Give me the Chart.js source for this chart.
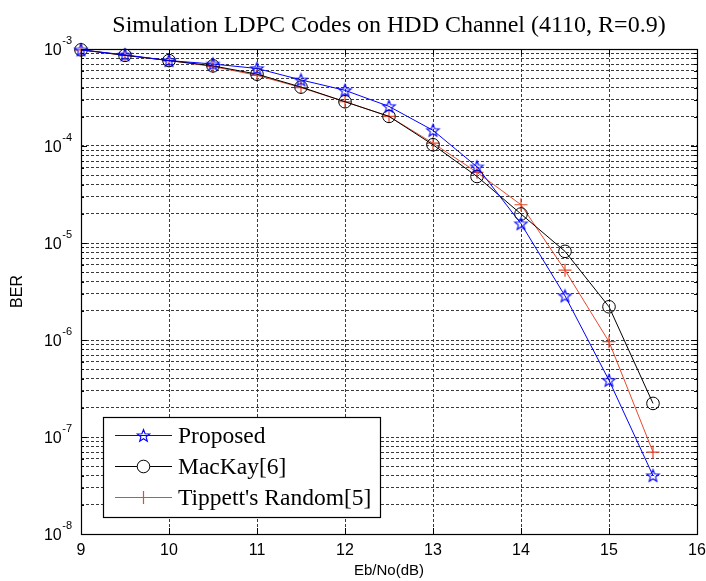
<!DOCTYPE html>
<html>
<head>
<meta charset="utf-8">
<script src="https://cdn.jsdelivr.net/npm/chart.js@4/dist/chart.umd.min.js"></script>
<style>
html,body{margin:0;padding:0;background:#fff;}
#wrap{width:706px;height:581px;}
</style>
</head>
<body>
<div id="wrap"><canvas id="c" width="706" height="581"></canvas></div>
<script>
// ---- data ----
const ebno = [9, 9.5, 10, 10.5, 11, 11.5, 12, 12.5, 13, 13.5, 14, 14.5, 15, 15.5];
const proposed = [9.8e-4, 8.7e-4, 7.6e-4, 7.0e-4, 6.3e-4, 4.8e-4, 3.75e-4, 2.56e-4, 1.45e-4, 6.1e-5, 1.58e-5, 2.85e-6, 3.84e-7, 4.0e-8];
const mackay = [9.8e-4, 8.6e-4, 7.6e-4, 6.7e-4, 5.5e-4, 4.05e-4, 2.86e-4, 2.02e-4, 1.03e-4, 4.85e-5, 1.99e-5, 8.2e-6, 2.2e-6, 2.22e-7];
const tippett = [9.8e-4, 8.6e-4, 7.6e-4, 6.6e-4, 5.35e-4, 4.0e-4, 2.86e-4, 2.02e-4, 1.07e-4, 5.35e-5, 2.48e-5, 5.25e-6, 9.6e-7, 7.0e-8];
const seriesLabels = ['Proposed', 'MacKay[6]', "Tippett's Random[5]"];
const xTicks = [9, 10, 11, 12, 13, 14, 15, 16];
const yMajorTicks = [1e-8, 1e-7, 1e-6, 1e-5, 1e-4, 1e-3];
const yMajorExponents = ['-8', '-7', '-6', '-5', '-4', '-3'];
const yMinorMultipliers = [2, 3, 4, 5, 6, 7, 8, 9];
const titleText = 'Simulation LDPC Codes on HDD Channel (4110, R=0.9)';
const xTitle = 'Eb/No(dB)';
const yTitle = 'BER';

const BLUE = '#0000ff', BLACK = '#000000', RED = '#e64a2e';
const SANS = "'Liberation Sans', Arial, sans-serif";
const SERIF = "'Liberation Serif', 'Times New Roman', serif";

// y tick values (majors + minors inside the range)
const yTickValues = [];
yMajorTicks.forEach((m, i) => {
  yTickValues.push(m);
  if (i < yMajorTicks.length - 1) yMinorMultipliers.forEach(k => yTickValues.push(+(k * m).toPrecision(3)));
});

// pentagram marker
function makeStar(color, r) {
  const s = Math.ceil(r * 2 + 4);
  const cv = document.createElement('canvas');
  cv.width = s; cv.height = s;
  const g = cv.getContext('2d');
  const c = s / 2, ri = r * 0.42;
  g.beginPath();
  for (let i = 0; i < 10; i++) {
    const rad = (i % 2 === 0) ? r : ri;
    const a = -Math.PI / 2 + i * Math.PI / 5;
    const px = c + rad * Math.cos(a), py = c + rad * Math.sin(a) + 0.5;
    if (i === 0) g.moveTo(px, py); else g.lineTo(px, py);
  }
  g.closePath();
  g.strokeStyle = color; g.lineWidth = 1.1;
  g.stroke();
  return cv;
}
const starImg = makeStar(BLUE, 6.5);

function pts(ys) { return ebno.map((x, i) => ({x: x, y: ys[i]})); }

const styles = [
  {color: BLUE, pointStyle: starImg, radius: 6.5},
  {color: BLACK, pointStyle: 'circle', radius: 6.3},
  {color: RED, pointStyle: 'cross', radius: 6.5}
];

const frameAndLegend = {
  id: 'frameAndLegend',
  afterDraw(chart) {
    const ctx = chart.ctx;
    const a = chart.chartArea;
    const xs = chart.scales.x, ys = chart.scales.y;
    ctx.save();
    // y tick labels as 10 with raised exponent
    ctx.fillStyle = '#000';
    ctx.textAlign = 'right';
    ctx.textBaseline = 'alphabetic';
    yMajorTicks.forEach((v, i) => {
      const py = ys.getPixelForValue(v);
      const ex = yMajorExponents[i];
      const xr = a.left - 9;
      ctx.font = '11px ' + SANS;
      const w = ctx.measureText(ex).width;
      ctx.fillText(ex, xr, py - 5);
      ctx.font = '16px ' + SANS;
      ctx.fillText('10', xr - w - 0.5, py + 6);
    });
    // inward tick marks
    ctx.strokeStyle = '#000'; ctx.lineWidth = 1;
    ctx.beginPath();
    xTicks.forEach(v => {
      const px = Math.round(xs.getPixelForValue(v)) + 0.5;
      ctx.moveTo(px, a.bottom); ctx.lineTo(px, a.bottom - 6);
      ctx.moveTo(px, a.top); ctx.lineTo(px, a.top + 6);
    });
    yTickValues.forEach(v => {
      const py = Math.round(ys.getPixelForValue(v)) + 0.5;
      const isMajor = yMajorTicks.indexOf(v) >= 0;
      const len = isMajor ? 6 : 3;
      ctx.moveTo(a.left, py); ctx.lineTo(a.left + len, py);
      ctx.moveTo(a.right, py); ctx.lineTo(a.right - len, py);
    });
    ctx.stroke();
    // frame
    ctx.lineWidth = 1.2;
    ctx.strokeRect(Math.round(a.left) + 0.5, Math.round(a.top) + 0.5, Math.round(a.right - a.left), Math.round(a.bottom - a.top));
    // legend box
    const lx = a.left + 22, ly = a.bottom - 117, lw = 277, lh = 100;
    ctx.fillStyle = '#fff';
    ctx.fillRect(lx, ly, lw, lh);
    ctx.lineWidth = 1.2;
    ctx.strokeStyle = '#000';
    ctx.strokeRect(lx + 0.5, ly + 0.5, lw, lh);
    chart.data.datasets.forEach((ds, i) => {
      const cy = ly + 18.5 + i * 31;
      const x0 = lx + 12, x1 = lx + 69, xm = (x0 + x1) / 2;
      ctx.strokeStyle = ds.borderColor; ctx.lineWidth = 1;
      ctx.beginPath(); ctx.moveTo(x0, cy); ctx.lineTo(x1, cy); ctx.stroke();
      const st = styles[i];
      if (st.pointStyle === 'circle') {
        ctx.beginPath(); ctx.arc(xm, cy, st.radius, 0, Math.PI * 2); ctx.fillStyle = '#fff'; ctx.fill(); ctx.stroke();
      } else if (st.pointStyle === 'cross') {
        ctx.lineWidth = 1.2;
        ctx.beginPath();
        ctx.moveTo(xm - st.radius, cy); ctx.lineTo(xm + st.radius, cy);
        ctx.moveTo(xm, cy - st.radius); ctx.lineTo(xm, cy + st.radius);
        ctx.stroke();
      } else {
        ctx.drawImage(st.pointStyle, xm - st.pointStyle.width / 2, cy - st.pointStyle.height / 2);
      }
      ctx.fillStyle = '#000';
      ctx.font = '23.5px ' + SERIF;
      ctx.textBaseline = 'middle';
      ctx.textAlign = 'left';
      ctx.fillText(ds.label, lx + 75, cy + 1);
    });
    ctx.restore();
  }
};

new Chart(document.getElementById('c'), {
  type: 'line',
  data: {
    datasets: [proposed, mackay, tippett].map((ys, i) => ({
      label: seriesLabels[i],
      data: pts(ys),
      borderColor: styles[i].color,
      backgroundColor: 'rgba(0,0,0,0)',
      borderWidth: 1,
      pointStyle: styles[i].pointStyle,
      pointRadius: styles[i].radius,
      pointBorderWidth: i === 2 ? 1.2 : 1,
      pointBorderColor: styles[i].color,
      pointBackgroundColor: 'rgba(0,0,0,0)',
      tension: 0,
      clip: false,
      fill: false
    }))
  },
  options: {
    responsive: false,
    animation: false,
    devicePixelRatio: 1,
    layout: {padding: {left: 0, right: 9, top: 0, bottom: 0}},
    plugins: {
      legend: {display: false},
      tooltip: {enabled: false},
      title: {
        display: true,
        text: titleText,
        fullSize: false,
        color: '#000',
        font: {family: SERIF, size: 24, weight: 'normal'},
        padding: {top: 11, bottom: 9.2}
      }
    },
    scales: {
      x: {
        type: 'linear',
        min: 9, max: 16,
        afterBuildTicks: s => { s.ticks = xTicks.map(v => ({value: v})); },
        afterFit: s => { s.height = 47; },
        ticks: {color: '#000', font: {family: SANS, size: 16, lineHeight: 2.08}, padding: 0, autoSkip: false, maxRotation: 0},
        grid: {color: '#3a3a3a', drawTicks: false, lineWidth: 1},
        border: {display: false, dash: [3, 2]},
        title: {display: true, text: xTitle, color: '#000', font: {family: SANS, size: 15}, padding: {top: 0, bottom: 1}}
      },
      y: {
        type: 'logarithmic',
        min: 1e-8, max: 1e-3,
        afterBuildTicks: s => { s.ticks = yTickValues.map(v => ({value: v})); },
        afterFit: s => { s.width = 81; },
        ticks: {display: false},
        grid: {color: '#3a3a3a', drawTicks: false, lineWidth: 1},
        border: {display: false, dash: [3, 2]},
        title: {display: true, text: yTitle, color: '#000', font: {family: SANS, size: 16}, padding: {top: 8, bottom: 0}}
      }
    }
  },
  plugins: [frameAndLegend]
});
</script>
</body>
</html>
